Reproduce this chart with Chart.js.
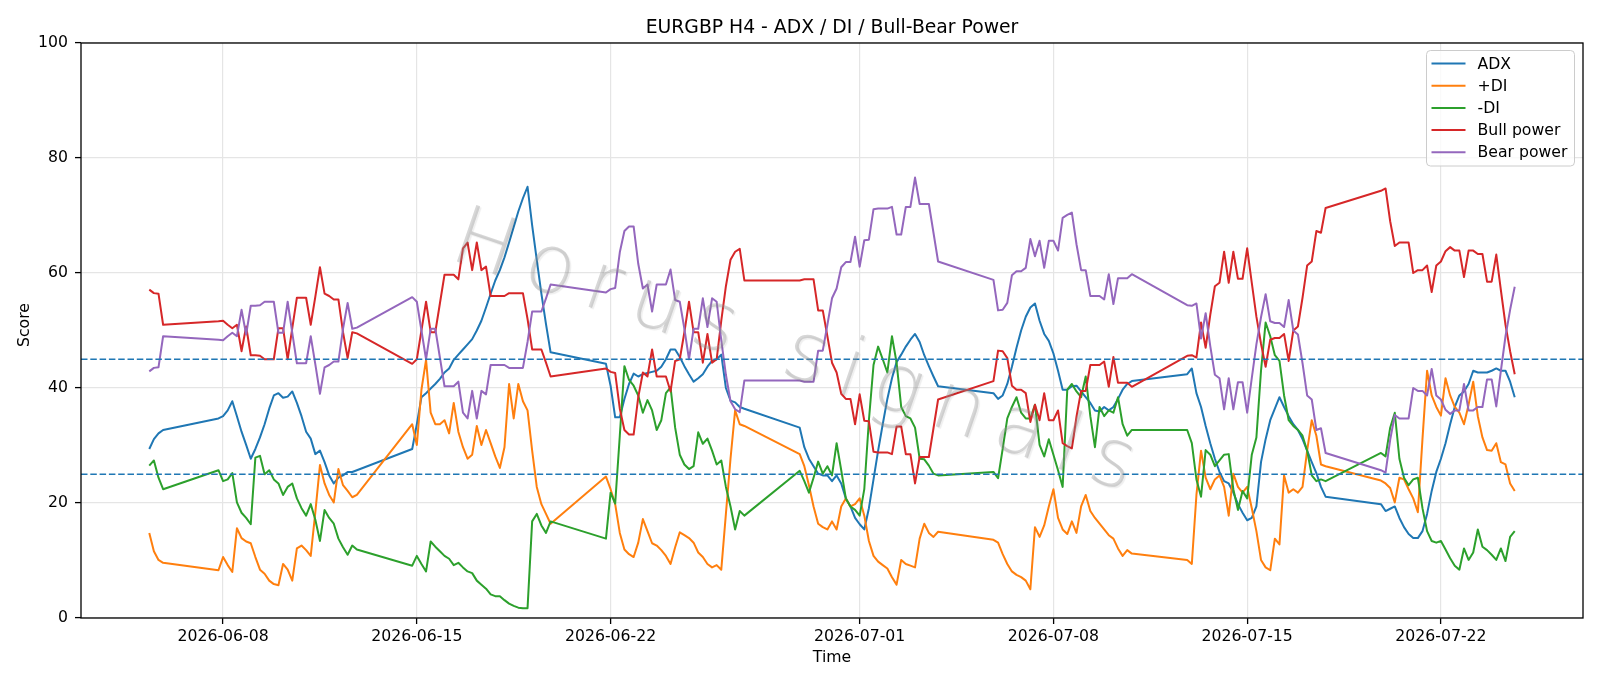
<!DOCTYPE html>
<html><head><meta charset="utf-8">
<script src="https://cdn.jsdelivr.net/npm/chart.js@4.4.1/dist/chart.umd.min.js"></script>
<style>html,body{margin:0;padding:0;background:#fff;}canvas{display:block;}</style>
</head><body>
<canvas id="c" width="1600" height="686"></canvas>
<script>
const chartTitle = 'EURGBP H4 - ADX / DI / Bull-Bear Power';
const xLabel = 'Time';
const yLabel = 'Score';
const watermark = 'Horus signals';
const seriesNames = ['ADX', '+DI', '-DI', 'Bull power', 'Bear power'];
const seriesColors = ['#1f77b4', '#ff7f0e', '#2ca02c', '#d62728', '#9467bd'];
const thresholds = [25, 45];
const tickDates = ['2026-06-08', '2026-06-15', '2026-06-22', '2026-07-01', '2026-07-08', '2026-07-15', '2026-07-22'];
// H4 trading sessions (UTC start, number of 4-hour bars)
const sessionStarts = ['2026-06-05T08:00', '2026-06-07T20:00', '2026-06-14T20:00', '2026-06-21T20:00', '2026-06-28T20:00', '2026-07-05T20:00', '2026-07-12T20:00', '2026-07-19T20:00'];
const sessionBars = [4, 31, 31, 31, 31, 31, 31, 30];

const adx = [
  29.4, 31.1, 32.1, 32.7,
  34.7, 35.1, 36.1, 37.7, 35.1, 32.4, 30.1, 27.7, 29.4, 31.4, 33.7, 36.4, 38.7, 39.1, 38.3, 38.5, 39.4, 37.4, 35.1, 32.4, 31.2, 28.5, 29.1, 27.1, 24.8, 23.4, 24.4, 24.8, 25.4, 25.4, 25.7,
  29.4, 33.7, 38.4, 39.1, 39.9, 40.7, 41.6, 42.7, 43.4, 44.9, 45.8, 46.7, 47.6, 48.5, 50.0, 51.7, 54.0, 56.4, 58.7, 60.5, 62.7, 65.3, 68.0, 70.7, 73.0, 75.0, 68.3, 62.3, 56.4, 51.1, 46.2,
  44.2, 40.4, 34.9, 34.9, 38.1, 40.7, 42.5, 42.0, 42.4, 42.6, 42.8, 43.0, 43.7, 45.0, 46.7, 46.7, 45.4, 43.8, 42.4, 41.1, 41.7, 42.4, 43.7, 44.7, 45.0, 45.8, 40.0, 37.8, 37.5, 36.7, 36.4,
  33.1, 29.7, 27.7, 26.4, 25.1, 24.8, 24.8, 23.8, 24.8, 23.4, 20.8, 19.4, 17.4, 16.3, 15.4, 19.1, 24.1, 29.1, 33.7, 38.1, 41.7, 44.5, 45.8, 47.2, 48.4, 49.4, 48.0, 45.7, 43.8, 42.0, 40.3,
  39.1, 38.1, 38.7, 40.7, 43.7, 47.0, 50.0, 52.4, 54.0, 54.7, 51.7, 49.4, 48.2, 46.0, 43.0, 39.7, 39.7, 40.3, 40.4, 39.4, 38.4, 37.4, 36.1, 35.9, 36.7, 36.1, 36.7, 38.1, 39.7, 40.7, 41.2,
  42.4, 43.4, 39.1, 36.7, 33.4, 30.4, 27.7, 25.4, 23.8, 23.4, 21.8, 19.8, 18.3, 17.0, 17.4, 19.4, 27.1, 31.1, 34.4, 36.4, 38.4, 36.7, 35.1, 33.7, 32.7, 31.1, 29.1, 27.1, 25.2, 22.8, 21.1,
  19.8, 18.6, 19.0, 19.4, 17.4, 15.8, 14.6, 13.9, 13.9, 15.1, 18.1, 22.1, 25.4, 27.7, 30.4, 33.7, 36.7, 38.7, 39.4, 40.7, 43.0, 42.7, 42.7, 42.7, 43.0, 43.4, 43.0, 43.0, 41.1, 38.4
];
const plusDI = [
  14.8, 11.6, 10.1, 9.6,
  8.3, 10.6, 9.2, 8.0, 15.6, 13.9, 13.3, 13.0, 10.6, 8.4, 7.7, 6.5, 5.9, 5.7, 9.4, 8.4, 6.5, 12.1, 12.6, 11.8, 10.8, 18.4, 26.6, 23.4, 21.4, 20.1, 25.9, 23.1, 22.1, 21.0, 21.4,
  33.7, 30.1, 39.7, 44.9, 35.7, 33.7, 33.7, 34.4, 32.1, 37.4, 32.4, 29.7, 27.7, 28.4, 33.4, 30.1, 32.7, 30.4, 28.1, 26.1, 29.7, 40.7, 34.7, 40.7, 37.7, 36.1, 29.1, 22.8, 19.8, 18.1, 16.4,
  24.6, 22.4, 19.8, 14.8, 11.9, 11.1, 10.6, 13.1, 17.2, 15.1, 13.0, 12.6, 11.8, 10.8, 9.4, 12.3, 14.9, 14.4, 13.9, 13.1, 11.4, 10.6, 9.4, 8.8, 9.2, 8.4, 18.1, 27.7, 36.1, 33.7, 33.4,
  28.5, 26.4, 23.1, 19.4, 16.4, 15.8, 15.4, 16.8, 15.4, 19.4, 20.8, 19.4, 19.8, 20.8, 17.8, 13.4, 10.8, 9.8, 9.2, 8.6, 7.1, 5.8, 10.1, 9.4, 9.1, 8.8, 13.8, 16.4, 14.8, 14.1, 15.0,
  13.6, 13.1, 11.1, 9.4, 8.1, 7.5, 7.1, 6.5, 5.0, 15.8, 14.1, 16.1, 19.4, 22.4, 17.4, 15.4, 14.6, 16.8, 14.8, 19.4, 21.4, 18.6, 17.4, 16.4, 15.4, 14.4, 13.8, 12.1, 10.8, 11.8, 11.2,
  10.1, 9.4, 21.4, 29.1, 24.4, 22.4, 24.1, 24.8, 22.8, 17.8, 25.1, 22.8, 21.8, 22.8, 19.1, 15.1, 10.1, 8.8, 8.3, 13.8, 12.8, 24.8, 21.8, 22.4, 21.8, 22.8, 29.1, 34.4, 31.7, 26.7, 26.4,
  23.9, 23.4, 22.6, 20.1, 24.4, 24.1, 22.4, 20.8, 18.4, 31.1, 43.0, 38.7, 36.7, 35.2, 41.7, 38.7, 36.7, 35.7, 33.7, 37.1, 41.1, 35.1, 31.4, 29.2, 29.1, 30.4, 27.1, 26.7, 23.4, 22.1
];
const minusDI = [
  26.5, 27.4, 24.4, 22.4,
  25.7, 23.8, 24.1, 25.2, 20.1, 18.3, 17.4, 16.3, 27.9, 28.2, 25.0, 25.7, 24.1, 23.4, 21.4, 22.8, 23.4, 20.8, 19.1, 17.8, 19.8, 17.1, 13.4, 18.8, 17.4, 16.4, 13.8, 12.3, 11.0, 12.6, 11.9,
  9.1, 10.8, 9.4, 8.1, 13.3, 12.4, 11.6, 10.8, 10.3, 9.2, 9.6, 8.8, 8.1, 7.8, 6.5, 5.8, 5.1, 4.1, 3.8, 3.8, 3.1, 2.5, 2.1, 1.8, 1.7, 1.7, 16.8, 18.1, 16.1, 14.8, 16.8,
  13.8, 21.8, 19.9, 31.7, 43.8, 41.4, 40.4, 38.7, 35.7, 37.9, 36.1, 32.7, 34.4, 39.1, 40.1, 33.1, 28.4, 26.7, 25.9, 26.4, 32.3, 30.3, 31.2, 29.1, 26.7, 27.4, 22.8, 19.4, 15.4, 18.6, 17.8,
  25.6, 23.8, 21.8, 24.4, 27.2, 25.1, 26.4, 24.8, 30.4, 25.7, 20.8, 19.4, 18.8, 17.8, 22.4, 34.4, 44.0, 47.2, 45.0, 42.7, 49.0, 44.4, 36.7, 35.1, 34.7, 33.1, 27.7, 27.6, 26.5, 25.1, 24.8,
  25.4, 24.3, 29.4, 34.7, 36.7, 38.4, 35.7, 34.7, 34.7, 37.1, 30.1, 28.1, 31.1, 28.4, 25.7, 22.8, 39.7, 40.7, 39.4, 38.4, 42.0, 35.1, 29.7, 36.7, 35.1, 36.1, 35.7, 38.4, 33.7, 31.7, 32.7,
  32.7, 30.4, 24.1, 21.1, 29.2, 28.4, 26.4, 27.4, 28.4, 28.5, 22.4, 18.8, 22.1, 20.8, 28.4, 31.4, 43.0, 51.4, 49.0, 45.7, 44.7, 38.7, 34.4, 33.4, 32.7, 31.7, 29.1, 24.8, 23.8, 24.1, 23.8,
  28.7, 28.1, 33.1, 35.7, 27.7, 24.4, 23.1, 24.1, 24.4, 19.1, 15.1, 13.4, 13.1, 13.4, 11.9, 10.4, 9.1, 8.4, 12.1, 10.1, 11.4, 15.4, 12.4, 11.8, 11.0, 10.1, 12.1, 9.9, 14.1, 15.1
];
const bullPower = [
  57.1, 56.5, 56.4, 51.0,
  51.6, 51.7, 51.0, 50.4, 51.0, 46.4, 50.7, 45.7, 45.7, 45.6, 45.0, 45.0, 45.0, 50.4, 50.4, 45.0, 50.4, 55.7, 55.7, 55.7, 51.0, 55.9, 61.0, 56.4, 56.0, 55.4, 55.4, 49.7, 45.2, 49.7, 49.5,
  44.2, 45.0, 50.0, 55.0, 49.7, 49.7, 54.7, 59.7, 59.7, 59.7, 58.9, 64.3, 65.3, 60.5, 65.3, 60.5, 61.1, 56.0, 56.0, 56.0, 56.0, 56.5, 56.5, 56.5, 56.5, 52.0, 46.7, 46.7, 46.7, 44.4, 42.0,
  43.4, 42.8, 42.6, 36.4, 32.7, 31.9, 31.9, 38.4, 42.7, 42.0, 46.7, 42.0, 42.0, 42.0, 39.4, 44.7, 45.0, 49.7, 55.0, 49.7, 49.7, 44.4, 49.4, 44.4, 45.0, 51.7, 57.7, 62.3, 63.7, 64.2, 58.7,
  58.7, 58.9, 58.9, 58.9, 53.5, 53.5, 49.0, 44.4, 42.7, 39.0, 38.1, 38.1, 33.7, 38.9, 34.3, 34.2, 28.9, 28.8, 28.8, 28.8, 28.5, 33.3, 33.3, 28.5, 28.5, 23.4, 28.0, 28.0, 28.0, 33.0, 38.0,
  41.2, 46.5, 46.4, 45.2, 40.4, 39.7, 39.7, 39.1, 34.1, 37.1, 34.4, 39.1, 34.4, 34.4, 36.1, 30.4, 29.9, 29.5, 35.0, 39.5, 39.5, 44.0, 44.0, 44.0, 44.6, 40.2, 45.4, 40.9, 40.9, 40.9, 40.2,
  45.6, 45.7, 45.3, 51.4, 47.0, 52.7, 57.7, 58.3, 63.7, 58.3, 63.7, 59.0, 59.0, 64.3, 58.3, 52.4, 47.7, 43.7, 48.4, 48.7, 48.7, 49.4, 44.7, 50.0, 50.7, 55.7, 61.3, 62.0, 67.3, 67.0, 71.3,
  74.3, 74.7, 69.0, 64.7, 65.3, 65.3, 65.3, 60.0, 60.5, 60.5, 61.3, 56.7, 61.3, 62.0, 63.8, 64.5, 63.9, 63.9, 59.3, 63.9, 63.9, 63.3, 63.3, 58.5, 58.5, 63.2, 57.0, 51.0, 46.4, 42.4
];
const bearPower = [
  42.9, 43.5, 43.6, 49.0,
  48.4, 48.3, 49.0, 49.6, 49.0, 53.6, 49.3, 54.3, 54.3, 54.4, 55.0, 55.0, 55.0, 49.6, 49.6, 55.0, 49.6, 44.3, 44.3, 44.3, 49.0, 44.1, 39.0, 43.6, 44.0, 44.6, 44.6, 50.3, 54.8, 50.3, 50.5,
  55.8, 55.0, 50.0, 45.0, 50.3, 50.3, 45.3, 40.3, 40.3, 40.3, 41.1, 35.7, 34.7, 39.5, 34.7, 39.5, 38.9, 44.0, 44.0, 44.0, 44.0, 43.5, 43.5, 43.5, 43.5, 48.0, 53.3, 53.3, 53.3, 55.6, 58.0,
  56.6, 57.2, 57.4, 63.6, 67.3, 68.1, 68.1, 61.6, 57.3, 58.0, 53.3, 58.0, 58.0, 58.0, 60.6, 55.3, 55.0, 50.3, 45.0, 50.3, 50.3, 55.6, 50.6, 55.6, 55.0, 48.3, 42.3, 37.7, 36.3, 35.8, 41.3,
  41.3, 41.1, 41.1, 41.1, 46.5, 46.5, 51.0, 55.6, 57.3, 61.0, 61.9, 61.9, 66.3, 61.1, 65.7, 65.8, 71.1, 71.2, 71.2, 71.2, 71.5, 66.7, 66.7, 71.5, 71.5, 76.6, 72.0, 72.0, 72.0, 67.0, 62.0,
  58.8, 53.5, 53.6, 54.8, 59.6, 60.3, 60.3, 60.9, 65.9, 62.9, 65.6, 60.9, 65.6, 65.6, 63.9, 69.6, 70.1, 70.5, 65.0, 60.5, 60.5, 56.0, 56.0, 56.0, 55.4, 59.8, 54.6, 59.1, 59.1, 59.1, 59.8,
  54.4, 54.3, 54.7, 48.6, 53.0, 47.3, 42.3, 41.7, 36.3, 41.7, 36.3, 41.0, 41.0, 35.7, 41.7, 47.6, 52.3, 56.3, 51.6, 51.3, 51.3, 50.6, 55.3, 50.0, 49.3, 44.3, 38.7, 38.0, 32.7, 33.0, 28.7,
  25.7, 25.3, 31.0, 35.3, 34.7, 34.7, 34.7, 40.0, 39.5, 39.5, 38.7, 43.3, 38.7, 38.0, 36.2, 35.5, 36.1, 36.1, 40.7, 36.1, 36.1, 36.7, 36.7, 41.5, 41.5, 36.8, 43.0, 49.0, 53.6, 57.6
];

// ---- build time axis values from sessions ----
const H4 = 4 * 3600 * 1000;
const times = [];
sessionStarts.forEach((s, i) => {
  const t0 = Date.parse(s + ':00Z');
  for (let k = 0; k < sessionBars[i]; k++) times.push(t0 + k * H4);
});
const allSeries = [adx, plusDI, minusDI, bullPower, bearPower];
allSeries.forEach((s, i) => { if (s.length !== times.length) console.error('length mismatch', seriesNames[i], s.length, times.length); });

const span = times[times.length - 1] - times[0];
const xMin = times[0] - 0.05 * span;
const xMax = times[times.length - 1] + 0.05 * span;

const FONT = '"DejaVu Sans", "Liberation Sans", sans-serif';
const TICK_SIZE = 15.7;

const datasets = allSeries.map((vals, i) => ({
  label: seriesNames[i],
  data: vals.map((v, j) => ({ x: times[j], y: v })),
  borderColor: seriesColors[i],
  backgroundColor: seriesColors[i],
  borderWidth: 2,
  pointRadius: 0,
  tension: 0,
  fill: false,
  borderJoinStyle: 'round',
  order: allSeries.length - i
}));

const decor = {
  id: 'decor',
  afterDatasetsDraw(chart) {
    const { ctx, chartArea: a, scales: { y } } = chart;
    ctx.save();
    ctx.beginPath();
    ctx.rect(a.left, a.top, a.right - a.left, a.bottom - a.top);
    ctx.clip();
    // threshold lines
    ctx.strokeStyle = '#1f77b4';
    ctx.lineWidth = 1.5;
    ctx.setLineDash([6.5, 2.8]);
    thresholds.forEach(v => {
      const py = y.getPixelForValue(v);
      ctx.beginPath(); ctx.moveTo(a.left, py); ctx.lineTo(a.right, py); ctx.stroke();
    });
    ctx.setLineDash([]);
    // watermark
    ctx.translate(800, 357);
    ctx.rotate(19 * Math.PI / 180);
    ctx.font = '200 82px ' + FONT;
    if ('letterSpacing' in ctx) ctx.letterSpacing = '14px';
    ctx.textAlign = 'center';
    ctx.textBaseline = 'middle';
    ctx.shadowColor = 'rgba(0,0,0,0.18)';
    ctx.shadowOffsetX = 1.5;
    ctx.shadowOffsetY = 1.5;
    ctx.shadowBlur = 1;
    ctx.fillStyle = 'rgba(150,150,150,0.38)';
    ctx.fillText(watermark, 0, 0);
    ctx.restore();

    // spines
    ctx.save();
    ctx.strokeStyle = '#000';
    ctx.lineWidth = 1.3;
    ctx.strokeRect(a.left, a.top, a.right - a.left, a.bottom - a.top);
    ctx.restore();
  },
  afterDraw(chart) {
    const { ctx, chartArea: a } = chart;
    const cx = (a.left + a.right) / 2;
    ctx.save();
    ctx.fillStyle = '#000';
    // title
    ctx.font = '18.8px ' + FONT;
    ctx.textAlign = 'center';
    ctx.textBaseline = 'alphabetic';
    ctx.fillText(chartTitle, cx, 33);
    // axis labels
    ctx.font = TICK_SIZE + 'px ' + FONT;
    ctx.fillText(xLabel, cx, 662);
    ctx.save();
    ctx.translate(25, 325);
    ctx.rotate(-Math.PI / 2);
    ctx.textBaseline = 'middle';
    ctx.fillText(yLabel, 0, 0);
    ctx.restore();

    // legend
    const lx = 1426.5, ly = 50.5, lw = 148, lh = 115.5, r = 4;
    ctx.beginPath();
    ctx.moveTo(lx + r, ly);
    ctx.lineTo(lx + lw - r, ly); ctx.quadraticCurveTo(lx + lw, ly, lx + lw, ly + r);
    ctx.lineTo(lx + lw, ly + lh - r); ctx.quadraticCurveTo(lx + lw, ly + lh, lx + lw - r, ly + lh);
    ctx.lineTo(lx + r, ly + lh); ctx.quadraticCurveTo(lx, ly + lh, lx, ly + lh - r);
    ctx.lineTo(lx, ly + r); ctx.quadraticCurveTo(lx, ly, lx + r, ly);
    ctx.closePath();
    ctx.fillStyle = 'rgba(255,255,255,0.8)';
    ctx.fill();
    ctx.strokeStyle = '#cccccc';
    ctx.lineWidth = 1;
    ctx.stroke();
    ctx.font = TICK_SIZE + 'px ' + FONT;
    ctx.textAlign = 'left';
    ctx.textBaseline = 'middle';
    chart.data.datasets.forEach((ds, i) => {
      const rowY = 63.5 + i * 22.2;
      ctx.strokeStyle = ds.borderColor;
      ctx.lineWidth = 2;
      ctx.beginPath(); ctx.moveTo(1431.5, rowY); ctx.lineTo(1465.5, rowY); ctx.stroke();
      ctx.fillStyle = '#000';
      ctx.fillText(ds.label, 1477.5, rowY + 1);
    });
    ctx.restore();
  }
};

new Chart(document.getElementById('c'), {
  type: 'line',
  data: { datasets },
  options: {
    responsive: false,
    devicePixelRatio: 1,
    animation: false,
    events: [],
    layout: { padding: { left: 0, right: 17, top: 43, bottom: 0 } },
    plugins: { legend: { display: false }, title: { display: false }, tooltip: { enabled: false } },
    scales: {
      x: {
        type: 'linear',
        min: xMin,
        max: xMax,
        afterBuildTicks: (scale) => { scale.ticks = tickDates.map(d => ({ value: Date.parse(d + 'T00:00:00Z') })); },
        afterFit: (scale) => { scale.height = 68; },
        ticks: {
          autoSkip: false, maxRotation: 0, minRotation: 0,
          padding: 4, color: '#000',
          font: { family: FONT, size: TICK_SIZE },
          callback: (v) => new Date(v).toISOString().slice(0, 10)
        },
        grid: { color: '#e5e5e5', lineWidth: 1.2, drawTicks: true, tickLength: 6, tickColor: '#000', tickWidth: 1.3 },
        border: { display: false }
      },
      y: {
        type: 'linear',
        min: 0, max: 100,
        afterFit: (scale) => { scale.width = 81; },
        ticks: { stepSize: 20, padding: 7, color: '#000', font: { family: FONT, size: TICK_SIZE } },
        grid: { color: '#e5e5e5', lineWidth: 1.2, drawTicks: true, tickLength: 6, tickColor: '#000', tickWidth: 1.3 },
        border: { display: false }
      }
    }
  },
  plugins: [decor]
});
</script>
</body></html>
